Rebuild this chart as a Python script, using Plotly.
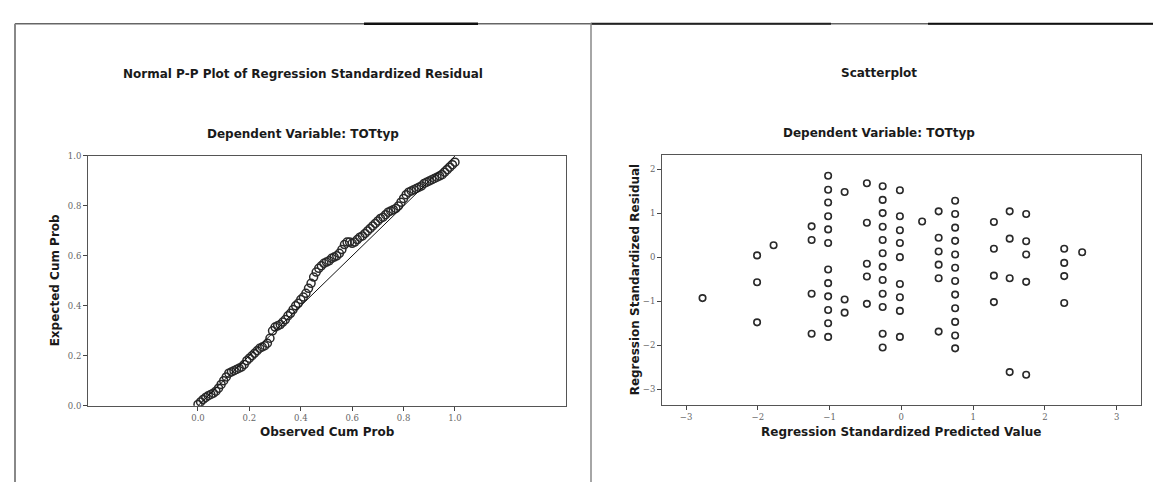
import plotly.graph_objects as go

W, H = 1161, 482

# ---------------- data: Normal P-P plot ----------------
pp_observed = [0.00, 0.01, 0.02, 0.03, 0.04, 0.05, 0.06, 0.07, 0.08, 0.09,
               0.10, 0.11, 0.12, 0.13, 0.14, 0.15, 0.16, 0.17, 0.18, 0.19,
               0.20, 0.21, 0.22, 0.23, 0.24, 0.25, 0.26, 0.27, 0.28, 0.29,
               0.30, 0.31, 0.32, 0.33, 0.34, 0.35, 0.36, 0.37, 0.38, 0.39,
               0.40, 0.41, 0.42, 0.43, 0.44, 0.45, 0.46, 0.47, 0.48, 0.49,
               0.50, 0.51, 0.52, 0.53, 0.54, 0.55, 0.56, 0.57, 0.58, 0.59,
               0.60, 0.61, 0.62, 0.63, 0.64, 0.65, 0.66, 0.67, 0.68, 0.69,
               0.70, 0.71, 0.72, 0.73, 0.74, 0.75, 0.76, 0.77, 0.78, 0.79,
               0.80, 0.81, 0.82, 0.83, 0.84, 0.85, 0.86, 0.87, 0.88, 0.89,
               0.90, 0.91, 0.92, 0.93, 0.94, 0.95, 0.96, 0.97, 0.98, 0.99, 1.00]
pp_expected = [0.005, 0.015, 0.025, 0.033, 0.040, 0.045, 0.050, 0.058, 0.070, 0.085,
               0.100, 0.115, 0.130, 0.135, 0.140, 0.145, 0.150, 0.155, 0.165, 0.180,
               0.190, 0.200, 0.210, 0.220, 0.230, 0.235, 0.240, 0.250, 0.270, 0.300,
               0.315, 0.320, 0.325, 0.335, 0.345, 0.360, 0.370, 0.385, 0.400, 0.410,
               0.425, 0.435, 0.450, 0.470, 0.490, 0.515, 0.535, 0.550, 0.560, 0.570,
               0.575, 0.580, 0.590, 0.595, 0.600, 0.610, 0.625, 0.645, 0.655, 0.655,
               0.650, 0.655, 0.665, 0.675, 0.680, 0.690, 0.700, 0.710, 0.720, 0.730,
               0.740, 0.750, 0.755, 0.765, 0.775, 0.780, 0.785, 0.790, 0.800, 0.815,
               0.830, 0.845, 0.855, 0.860, 0.865, 0.870, 0.875, 0.880, 0.890, 0.895,
               0.900, 0.905, 0.910, 0.915, 0.920, 0.925, 0.935, 0.945, 0.955, 0.965, 0.975]
pp_ref_x = [0.0, 1.0]
pp_ref_y = [0.0, 1.0]
pp_ticks = [0.0, 0.2, 0.4, 0.6, 0.8, 1.0]

# ---------------- data: Scatterplot ----------------
pred = ([-2.77] +
        [-2.01] * 3 +
        [-1.78] +
        [-1.25] * 4 +
        [-1.02] * 12 +
        [-0.79] * 3 +
        [-0.48] * 5 +
        [-0.26] * 12 +
        [-0.02] * 9 +
        [0.29] +
        [0.52] * 6 +
        [0.75] * 12 +
        [1.29] * 4 +
        [1.51] * 4 +
        [1.74] * 5 +
        [2.27] * 4 +
        [2.52])
resid = ([-0.93] +
         [0.04, -0.57, -1.48] +
         [0.27] +
         [0.70, 0.39, -0.83, -1.74] +
         [1.85, 1.53, 1.24, 0.93, 0.63, 0.32, -0.28, -0.59, -0.89, -1.20, -1.50, -1.81] +
         [1.48, -0.96, -1.26] +
         [1.68, 0.78, -0.15, -0.44, -1.06] +
         [1.61, 1.30, 1.00, 0.69, 0.39, 0.09, -0.22, -0.52, -0.83, -1.13, -1.74, -2.05] +
         [1.52, 0.93, 0.61, 0.32, 0.00, -0.61, -0.91, -1.22, -1.81] +
         [0.81] +
         [1.04, 0.44, 0.13, -0.17, -0.48, -1.69] +
         [1.28, 0.98, 0.67, 0.37, 0.06, -0.24, -0.54, -0.85, -1.16, -1.47, -1.78, -2.07] +
         [0.80, 0.19, -0.42, -1.02] +
         [1.04, 0.42, -0.48, -2.61] +
         [0.98, 0.36, 0.06, -0.56, -2.67] +
         [0.19, -0.13, -0.43, -1.04] +
         [0.11])
sc_xticks = [-3, -2, -1, 0, 1, 2, 3]
sc_yticks = [-3, -2, -1, 0, 1, 2]

# ---------------- layout helpers ----------------
def px_x(p):
    return p / W

def px_y(p):
    return 1 - p / H

TITLE_FONT = dict(family="DejaVu Sans", size=12, color="#1a1a1a", weight="bold")
TICK_FONT = dict(family="DejaVu Serif", size=8.5, color="#666666")

fig = go.Figure()

fig.add_trace(go.Scatter(
    x=pp_observed, y=pp_expected, mode="markers",
    marker=dict(symbol="circle-open", size=8, color="#2a2a2a", line=dict(width=1.5)),
    xaxis="x", yaxis="y", showlegend=False))
fig.add_trace(go.Scatter(
    x=pp_ref_x, y=pp_ref_y, mode="lines",
    line=dict(color="#111111", width=1),
    xaxis="x", yaxis="y", showlegend=False))

fig.add_trace(go.Scatter(
    x=pred, y=resid, mode="markers",
    marker=dict(symbol="circle-open", size=6.5, color="#2a2a2a", line=dict(width=1.6)),
    xaxis="x2", yaxis="y2", showlegend=False))

axis_common = dict(showgrid=False, zeroline=False, showline=True, mirror=True,
                   linecolor="#555555", linewidth=1, ticks="outside", ticklen=4,
                   tickcolor="#444444", tickfont=TICK_FONT)

fig.update_layout(
    width=W, height=H,
    margin=dict(l=0, r=0, t=0, b=0),
    paper_bgcolor="white", plot_bgcolor="white",
    xaxis=dict(domain=[px_x(80), px_x(558)], range=[-0.428, 1.432],
               tickvals=pp_ticks, ticktext=["%.1f" % v for v in pp_ticks],
               anchor="y", **axis_common),
    yaxis=dict(domain=[px_y(401), px_y(146)], range=[0, 1],
               tickvals=pp_ticks, ticktext=["%.1f" % v for v in pp_ticks],
               anchor="x", **axis_common),
    xaxis2=dict(domain=[px_x(654), px_x(1133)], range=[-3.335, 3.34],
                tickvals=sc_xticks, anchor="y2", **axis_common),
    yaxis2=dict(domain=[px_y(400), px_y(145)], range=[-3.35, 2.32],
                tickvals=sc_yticks, anchor="x2", **axis_common),
)

annotations = [
    dict(text="Normal P-P Plot of Regression Standardized Residual", x=px_x(295), y=px_y(62)),
    dict(text="Dependent Variable: TOTtyp", x=px_x(295), y=px_y(124)),
    dict(text="Observed Cum Prob", x=px_x(319), y=px_y(428)),
    dict(text="Expected Cum Prob", x=px_x(47), y=px_y(273), textangle=-90),
    dict(text="Scatterplot", x=px_x(871), y=px_y(61)),
    dict(text="Dependent Variable: TOTtyp", x=px_x(871), y=px_y(123)),
    dict(text="Regression Standardized Predicted Value", x=px_x(893), y=px_y(428)),
    dict(text="Regression Standardized Residual", x=px_x(627), y=px_y(272), textangle=-90),
]
for a in annotations:
    fig.add_annotation(xref="paper", yref="paper", showarrow=False,
                       xanchor="center", yanchor="middle", font=TITLE_FONT, **a)

# outer panel frame lines
frame = [
    dict(x0=px_x(7), x1=1, y0=px_y(11), y1=px_y(11), color="#666666", width=1.5),
    dict(x0=px_x(356), x1=px_x(470), y0=px_y(11), y1=px_y(11), color="#111111", width=2.5),
    dict(x0=px_x(583), x1=px_x(823), y0=px_y(11), y1=px_y(11), color="#222222", width=2),
    dict(x0=px_x(920), x1=1, y0=px_y(11), y1=px_y(11), color="#111111", width=2),
    dict(x0=px_x(7), x1=px_x(7), y0=px_y(11), y1=0, color="#888888", width=2),
    dict(x0=px_x(583), x1=px_x(583), y0=px_y(10), y1=0, color="#888888", width=1.5),
]
for f in frame:
    fig.add_shape(type="line", xref="paper", yref="paper",
                  x0=f["x0"], x1=f["x1"], y0=f["y0"], y1=f["y1"],
                  line=dict(color=f["color"], width=f["width"]))

fig.write_html("out.html")
